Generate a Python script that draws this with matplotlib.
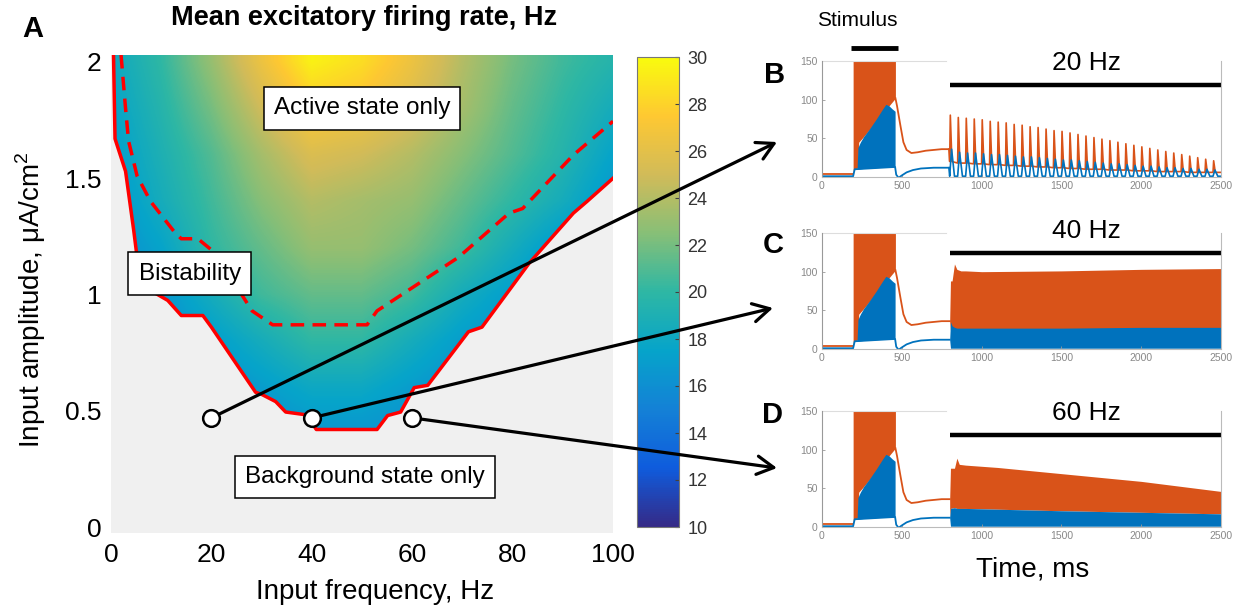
import numpy as np
import matplotlib
matplotlib.use('Agg')
import matplotlib.pyplot as plt
from matplotlib.colors import LinearSegmentedColormap
from matplotlib.patches import Polygon, ConnectionPatch
from matplotlib.lines import Line2D

plt.rcParams['font.family'] = ['Liberation Sans', 'DejaVu Sans']
plt.rcParams['mathtext.fontset'] = 'custom'
plt.rcParams['mathtext.rm'] = 'Liberation Sans'

# ---------------- Panel A: firing rate map ----------------
freq_grid = [0, 10, 20, 30, 40, 50, 60, 70, 80, 90, 100]
amp_grid = [0.4, 0.6, 0.8, 1.0, 1.2, 1.4, 1.6, 1.8, 2.0]
rate_grid = [
    [16, 16, 16, 16, 16.5, 16.5, 16, 16, 16, 16, 16],
    [16, 16, 16, 17, 18, 18, 17, 16, 16, 16, 16],
    [16, 16, 17, 18.5, 20, 20, 18.5, 17, 16, 16, 16],
    [16, 16.5, 18.5, 20.5, 21.5, 21.5, 20.5, 18.5, 17, 16, 16],
    [16, 17.5, 20, 21.5, 23, 23, 22, 20.5, 18.5, 16.5, 16],
    [16.5, 18.5, 20.5, 22.5, 24, 23.5, 23, 21.5, 20, 18.5, 16.5],
    [17, 19, 21, 23.5, 25.5, 25, 24, 22.5, 21, 19.5, 17.5],
    [17.5, 19.5, 22, 25, 27.5, 27, 25.5, 23.5, 21.5, 20, 18.5],
    [18, 20, 23, 26.5, 29.5, 28.5, 26.5, 24, 22, 20.5, 19.5],
]

# lower edge of the bistable region (solid red)
bnd_freq = [0.5, 0.8, 2.9, 4.5, 5.2, 6.5, 8.5, 11.3, 14.0, 18.3, 20.0, 28.8, 30.1, 32.8,
            34.8, 38.9, 40.9, 53.0, 55.1, 57.7, 60.4, 63.1, 71.2, 73.9, 83.3, 92.1, 94.8, 100]
bnd_amp = [2.03, 1.67, 1.53, 1.28, 1.16, 1.07, 1.01, 0.975, 0.91, 0.91, 0.86, 0.58, 0.57, 0.54,
           0.495, 0.483, 0.42, 0.42, 0.48, 0.495, 0.60, 0.61, 0.84, 0.86, 1.135, 1.35, 1.40, 1.50]
# upper edge of the bistable region (dashed red)
dash_freq = [2.0, 2.9, 3.5, 5.2, 7.9, 12.6, 14.0, 17.3, 20.7, 28.1, 32.2, 51.0, 53.0,
             69.2, 79.3, 82.0, 92.1, 100]
dash_amp = [2.03, 1.80, 1.66, 1.51, 1.40, 1.27, 1.24, 1.24, 1.18, 0.93, 0.87, 0.87, 0.93,
            1.16, 1.35, 1.37, 1.60, 1.745]

probe_freq = [20, 40, 60]
probe_amp = [0.47, 0.47, 0.47]

region_labels = ['Active state only', 'Bistability', 'Background state only']
region_freq = [50, 15.7, 50.6]
region_amp = [1.80, 1.09, 0.215]

# ---------------- Panels B-D: rate traces ----------------
pre_t = [0, 195]
pre_exc = [4, 4]

stim_t = [195, 200, 215, 225, 230, 260, 300, 340, 380, 400, 420, 440, 460]
stim_exc_low = [4, 10, 11, 12, 45, 52, 62, 72, 83, 88, 92, 97, 102]
stim_inh_t = [220, 225, 240, 260, 300, 340, 380, 400, 420, 440, 458]
stim_inh_high = [12, 38, 45, 52, 63, 75, 88, 94, 92, 88, 85]
stim_inh_low = [10, 10, 10.5, 11, 11.5, 12, 12.5, 13, 13, 13, 13]

post_t = [460, 470, 490, 510, 530, 560, 600, 650, 700, 750, 800]
post_exc = [102, 92, 68, 45, 35, 31, 32, 34, 35, 36, 36]
post_inh_t = [0, 195, 205, 458, 465, 480, 500, 530, 570, 620, 700, 800]
post_inh = [1, 1, 10, 13, 3, -1, 2, 6, 9, 11, 12, 12]

# 20 Hz: single pulses
b_exc_peak = [80, 77, 76, 75, 74, 72, 71, 70, 68, 67, 65, 64, 62, 60, 59, 57, 55,
              53, 51, 49, 47, 45, 43, 41, 39, 37, 35, 33, 31, 29, 27, 25, 23, 21]
b_exc_trough = [20, 18, 18, 17, 17, 16, 16, 15, 15, 14, 14, 13, 13, 12, 12, 11, 11,
                10, 10, 10, 9, 9, 9, 8, 8, 8, 7, 7, 7, 7, 6, 6, 6, 6]
b_inh_peak = [36, 32, 31, 31, 30, 29, 29, 28, 27, 26, 26, 25, 24, 23, 22, 22, 21,
              20, 19, 18, 17, 17, 16, 15, 14, 14, 13, 12, 12, 11, 11, 10, 10, 9]
b_inh_floor = 1

# 40 Hz: envelopes
c_t = [800, 805, 815, 830, 845, 870, 900, 1000, 1500, 2000, 2500]
c_exc_high = [36, 88, 88, 110, 103, 101, 101, 100, 101, 103, 104]
c_exc_low = [36, 24, 24, 24, 24, 24, 24, 24, 25, 26, 27]
c_inh_high = [12, 35, 30, 28, 27, 27, 27, 27, 27, 28, 28]
c_inh_low = [12, 1, 1, 1, 1, 1, 1, 1, 1, 1, 1]

# 60 Hz: envelopes
d_t = [800, 805, 830, 845, 860, 900, 1100, 1500, 2000, 2500]
d_exc_high = [36, 76, 76, 89, 81, 80, 77, 69, 59, 46]
d_inh_high = [12, 24, 25, 24, 24, 24, 23, 21, 19, 17]
d_inh_low = [12, 1, 1, 1, 1, 1, 1, 1, 1, 1]

drive_labels = ['20 Hz', '40 Hz', '60 Hz']
drive_text_y = [147, 152, 147]
drive_bar_y = [119, 124, 119]
drive_on = [800, 2500]
stim_bar = [180, 478]

ORANGE = '#D95319'
BLUE = '#0072BD'
parula = LinearSegmentedColormap.from_list(
    'parula', ['#352a87', '#0f5cdd', '#1481d6', '#06a4ca', '#2eb7a4',
               '#87bf77', '#d1bb59', '#fec832', '#f9fb0e'])

W, H = 1244, 609
fig = plt.figure(figsize=(W / 100, H / 100), dpi=100)


def box(x0, y0, x1, y1):
    # pixel box (top-left origin) -> figure fraction
    return [x0 / W, 1 - y1 / H, (x1 - x0) / W, (y1 - y0) / H]


# ---- panel A
axA = fig.add_axes(box(111, 55, 613, 533))
axA.set_facecolor('#f0f0f0')
im = axA.imshow(np.array(rate_grid), origin='lower', extent=(-5, 105, 0.3, 2.1),
                cmap=parula, vmin=10, vmax=30, interpolation='bilinear', aspect='auto', zorder=1)
clip_pts = [(0, 2.03)] + list(zip(bnd_freq, bnd_amp)) + [(100, 2.03)]
clip_poly = Polygon(clip_pts, closed=True, transform=axA.transData, fc='none', ec='none')
im.set_clip_path(clip_poly)
axA.plot(bnd_freq, bnd_amp, color='#ff0000', lw=2.5, zorder=3)
axA.plot(dash_freq, dash_amp, color='#ff0000', lw=2.5, dashes=[3.9, 2.4], zorder=3)
for lab, f, a in zip(region_labels, region_freq, region_amp):
    axA.text(f, a, lab, ha='center', va='center', fontsize=17.5, zorder=10,
             bbox=dict(boxstyle='square,pad=0.42', fc='white', ec='black', lw=1.1))
axA.set_xlim(0, 100)
axA.set_ylim(-0.025, 2.03)
axA.set_xticks([0, 20, 40, 60, 80, 100])
axA.set_yticks([0, 0.5, 1, 1.5, 2])
axA.set_yticklabels(['0', '0.5', '1', '1.5', '2'])
axA.tick_params(length=0, labelsize=19, pad=7)
for s in axA.spines.values():
    s.set_visible(False)

cax = fig.add_axes(box(637, 57, 679, 527))
cb = fig.colorbar(im, cax=cax)
cb.set_ticks(range(10, 31, 2))
cax.tick_params(direction='in', length=3, width=0.8, color='#404040',
                labelsize=13, labelcolor='#333333', pad=6)
cb.outline.set_edgecolor('#777777')
cb.outline.set_linewidth(0.8)

fig.text(364 / W, 1 - 18 / H, 'Mean excitatory firing rate, Hz', ha='center', va='center',
         fontsize=19.5, fontweight='bold')
fig.text(375 / W, 1 - 592 / H, 'Input frequency, Hz', ha='center', va='center', fontsize=20)
fig.text(31 / W, 1 - 300 / H, r'Input amplitude, μA/cm$^2$', ha='center', va='center',
         fontsize=20, rotation=90)

# arrows from probe points to the trace panels
arrow_tips = [(777, 142), (773, 308), (777, 468)]
for f, a, (tx, ty) in zip(probe_freq, probe_amp, arrow_tips):
    con = ConnectionPatch(xyA=(f, a), coordsA=axA.transData, xyB=(tx, H - ty),
                          coordsB='figure pixels',
                          arrowstyle='->,head_length=0.6,head_width=0.33',
                          mutation_scale=20, lw=2.3, color='black',
                          shrinkA=0, shrinkB=0, zorder=5)
    fig.add_artist(con)
fig.add_artist(Line2D(probe_freq, probe_amp, transform=axA.transData, ls='none',
                      marker='o', ms=12, mfc='white', mec='black', mew=1.8, zorder=6))

# ---- panels B-D
trace_boxes = [(822, 61, 1221, 177), (822, 233, 1221, 349), (822, 411, 1221, 527)]
axes_r = [fig.add_axes(box(*b)) for b in trace_boxes]

for i, ax in enumerate(axes_r):
    # common part: baseline, stimulus, delay
    ax.plot(pre_t, pre_exc, color=ORANGE, lw=1.3)
    ax.fill_between(stim_t, stim_exc_low, 160, color=ORANGE, lw=0)
    ax.plot(post_t, post_exc, color=ORANGE, lw=1.3)
    ax.plot(post_inh_t, post_inh, color=BLUE, lw=1.3)
    ax.fill_between(stim_inh_t, stim_inh_low, stim_inh_high, color=BLUE, lw=0)

    if i == 0:
        pulse_t = 800 + 50 * np.arange(len(b_exc_peak))   # 20 Hz pulses
        et, ey, it_, iy = [795], [36], [795], [12]
        for t, pk, tr, ipk in zip(pulse_t, b_exc_peak, b_exc_trough, b_inh_peak):
            et += [t, t + 4, t + 14]
            ey += [tr, pk, tr]
            it_ += [t, t + 12, t + 30]
            iy += [b_inh_floor, ipk, b_inh_floor]
        et.append(2500); ey.append(b_exc_trough[-1])
        it_.append(2500); iy.append(b_inh_floor)
        ax.plot(et, ey, color=ORANGE, lw=1.2)
        ax.plot(it_, iy, color=BLUE, lw=1.2)
    elif i == 1:
        ax.fill_between(c_t, c_exc_low, c_exc_high, color=ORANGE, lw=0)
        ax.fill_between(c_t, c_inh_low, c_inh_high, color=BLUE, lw=0)
    else:
        ax.fill_between(d_t, d_inh_high, d_exc_high, color=ORANGE, lw=0)
        ax.fill_between(d_t, d_inh_low, d_inh_high, color=BLUE, lw=0)

    ax.set_xlim(0, 2500)
    ax.set_ylim(0, 150)
    ax.set_xticks([0, 500, 1000, 1500, 2000, 2500])
    ax.set_yticks([0, 50, 100, 150])
    ax.tick_params(direction='in', length=2, width=0.6, color='#999999',
                   labelsize=7.5, labelcolor='#888888', pad=3)
    for s in ax.spines.values():
        s.set_color('#bbbbbb')
        s.set_linewidth(0.8)
    ax.spines['left'].set_color('#999999')
    ax.spines['top'].set_visible(False)
    ax.plot([0, 780], [150, 150], color='#dddddd', lw=0.8, clip_on=False)

    ax.plot(drive_on, [drive_bar_y[i]] * 2, color='black', lw=3.2, clip_on=False,
            solid_capstyle='butt')
    ax.text(1660, drive_text_y[i], drive_labels[i], ha='center', va='center',
            fontsize=19, clip_on=False)

axes_r[0].plot(stim_bar, [167, 167], color='black', lw=3.5, clip_on=False,
               solid_capstyle='butt')
axes_r[0].text(221, 203, 'Stimulus', ha='center', va='center', fontsize=15, clip_on=False)

fig.text(1033 / W, 1 - 570 / H, 'Time, ms', ha='center', va='center', fontsize=20)

for lab, (x, y) in zip('ABCD', [(33, 29), (775, 75), (773, 245), (773, 415)]):
    fig.text(x / W, 1 - y / H, lab, ha='center', va='center', fontsize=21, fontweight='bold')

fig.savefig('out.png', dpi=100)
